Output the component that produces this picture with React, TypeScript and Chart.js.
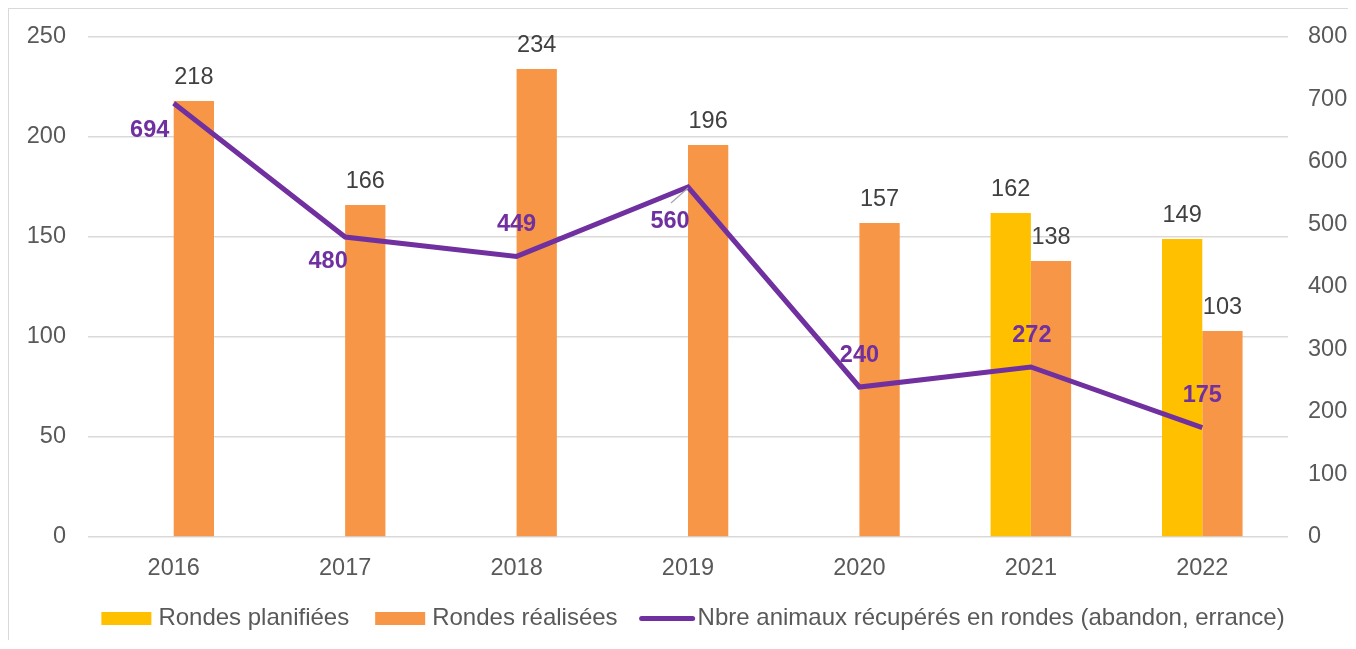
import React, { useEffect, useRef } from "react";
import { Chart, registerables } from "chart.js";

Chart.register(...registerables);

const categories = ["2016", "2017", "2018", "2019", "2020", "2021", "2022"];
const rondesPlanifiees: (number | null)[] = [null, null, null, null, null, 162, 149];
const rondesRealisees = [218, 166, 234, 196, 157, 138, 103];
const animauxRecuperes = [694, 480, 449, 560, 240, 272, 175];
const leftTicks = [0, 50, 100, 150, 200, 250];
const rightTicks = [0, 100, 200, 300, 400, 500, 600, 700, 800];

// label offsets (px) relative to line points
const lineLabelOffsets: [number, number][] = [
  [-24, 27],
  [-17, 25],
  [0, -32],
  [-18, 35],
  [0, -31],
  [1, -31],
  [0, -32],
];
const leaderLines = [false, false, false, true, false, false, false];

const FONT = "'Liberation Sans', Arial, sans-serif";
const FS = 23.5;
const LEGEND_FS = 24;

const labelPlugin = {
  id: "labels",
  afterDatasetsDraw(chart: any) {
    const ctx = chart.ctx;
    ctx.save();
    ctx.font = `${FS}px ${FONT}`;
    ctx.fillStyle = "#404040";
    ctx.textAlign = "center";
    ctx.textBaseline = "middle";
    [0, 1].forEach((di) => {
      const meta = chart.getDatasetMeta(di);
      const data = chart.data.datasets[di].data;
      meta.data.forEach((el: any, i: number) => {
        if (data[i] == null) return;
        ctx.fillText(String(data[i]), el.x, el.y - 23);
      });
    });
    const lm = chart.getDatasetMeta(2);
    const ld = chart.data.datasets[2].data;
    lm.data.forEach((el: any, i: number) => {
      const [dx, dy] = lineLabelOffsets[i];
      if (leaderLines[i]) {
        ctx.strokeStyle = "#A6A6A6";
        ctx.lineWidth = 1.2;
        ctx.beginPath();
        ctx.moveTo(el.x + dx + 1, el.y + dy - 19);
        ctx.lineTo(el.x, el.y + 1);
        ctx.stroke();
      }
      ctx.font = `bold ${FS}px ${FONT}`;
      ctx.fillStyle = "#7030A0";
      ctx.fillText(String(ld[i]), el.x + dx, el.y + dy);
    });
    ctx.restore();
  },
};

// custom legend drawn below the x axis
const legendPlugin = {
  id: "customLegend",
  afterDraw(chart: any) {
    const ctx = chart.ctx;
    ctx.save();
    ctx.font = `${LEGEND_FS}px ${FONT}`;
    ctx.textBaseline = "middle";
    ctx.textAlign = "left";
    const ds = chart.data.datasets;
    const items = ds.map((d: any) => {
      const isLine = d.type === "line";
      return {
        text: d.label,
        isLine,
        color: isLine ? d.borderColor : d.backgroundColor,
        markW: isLine ? 55 : 50,
        gap: isLine ? 3 : 7,
        w: ctx.measureText(d.label).width,
      };
    });
    const spacing = [26, 22];
    let total = 0;
    items.forEach((it: any, i: number) => {
      total += it.markW + it.gap + it.w;
      if (i < items.length - 1) total += spacing[i];
    });
    const ca = chart.chartArea;
    const cx = (ca.left + ca.right) / 2 + 5;
    let x = cx - total / 2;
    const y = 609;
    items.forEach((it: any, i: number) => {
      if (it.isLine) {
        ctx.strokeStyle = it.color;
        ctx.lineWidth = 5;
        ctx.lineCap = "round";
        ctx.beginPath();
        ctx.moveTo(x + 2, y + 0.5);
        ctx.lineTo(x + it.markW - 2, y + 0.5);
        ctx.stroke();
      } else {
        ctx.fillStyle = it.color;
        ctx.fillRect(x, y - 6, it.markW, 13);
      }
      x += it.markW + it.gap;
      ctx.fillStyle = "#595959";
      ctx.fillText(it.text, x, y);
      x += it.w;
      if (i < items.length - 1) x += spacing[i];
    });
    ctx.restore();
  },
};

const noPad = (s: any) => {
  s.paddingTop = 0;
  s.paddingBottom = 0;
};

export default function App() {
  const ref = useRef<HTMLCanvasElement>(null);
  useEffect(() => {
    if (!ref.current) return;
    const chart = new Chart(ref.current, {
      type: "bar",
      data: {
        labels: categories,
        datasets: [
          {
            type: "bar",
            label: "Rondes planifiées",
            data: rondesPlanifiees as any,
            backgroundColor: "#FFC000",
            yAxisID: "y",
            categoryPercentage: 0.47,
            barPercentage: 1,
            order: 2,
          },
          {
            type: "bar",
            label: "Rondes réalisées",
            data: rondesRealisees,
            backgroundColor: "#F79646",
            yAxisID: "y",
            categoryPercentage: 0.47,
            barPercentage: 1,
            order: 2,
          },
          {
            type: "line",
            label: "Nbre animaux récupérés en rondes (abandon, errance)",
            data: animauxRecuperes,
            borderColor: "#7030A0",
            backgroundColor: "#7030A0",
            borderWidth: 5,
            pointRadius: 0,
            tension: 0,
            yAxisID: "y1",
            order: 1,
          } as any,
        ],
      },
      options: {
        animation: false,
        responsive: false,
        maintainAspectRatio: false,
        layout: { padding: { top: 28, left: 0, right: 0, bottom: 62 } },
        plugins: {
          tooltip: { enabled: false },
          legend: { display: false },
        },
        scales: {
          x: {
            grid: { display: false },
            border: { display: false },
            ticks: { font: { family: FONT, size: FS }, color: "#595959", padding: 9 },
            afterFit(s: any) {
              s.height = 41;
            },
          },
          y: {
            position: "left",
            min: 0,
            max: 250,
            afterBuildTicks(s: any) {
              s.ticks = leftTicks.map((v) => ({ value: v }));
            },
            grid: { color: "#D9D9D9", lineWidth: 1.5, drawTicks: false },
            border: { display: false },
            ticks: { font: { family: FONT, size: FS }, color: "#595959", padding: 22 },
            afterFit(s: any) {
              s.width = 79;
              noPad(s);
            },
          },
          y1: {
            position: "right",
            min: 0,
            max: 800,
            afterBuildTicks(s: any) {
              s.ticks = rightTicks.map((v) => ({ value: v }));
            },
            grid: { display: false, drawTicks: false },
            border: { display: false },
            ticks: { font: { family: FONT, size: FS }, color: "#595959", padding: 20 },
            afterFit(s: any) {
              s.width = 60;
              noPad(s);
            },
          },
        },
      },
      plugins: [labelPlugin, legendPlugin],
    });
    return () => chart.destroy();
  }, []);
  return (
    <div
      style={{
        width: 1340,
        height: 632,
        boxSizing: "border-box",
        borderTop: "1.5px solid #D9D9D9",
        borderLeft: "1.5px solid #D9D9D9",
        overflow: "hidden",
      }}
    >
      <canvas ref={ref} width={1339} height={631} style={{ display: "block" }} />
    </div>
  );
}
